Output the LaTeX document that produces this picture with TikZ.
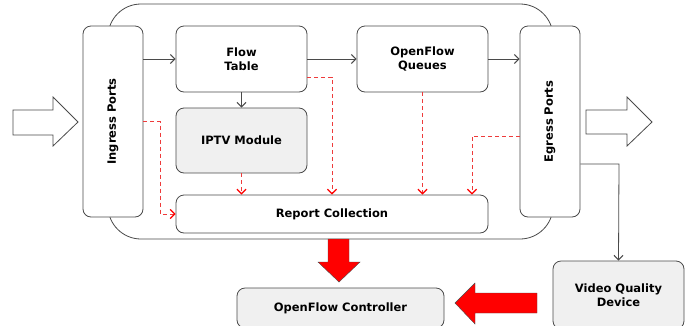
\documentclass[tikz,border=0pt]{standalone}
\usepackage{fontspec}
\setmainfont{DejaVu Sans}
\usepackage{tikz}
\usetikzlibrary{arrows.meta, positioning}

\definecolor{linegray}{HTML}{4A4A4A}
\definecolor{boxgray}{HTML}{F0F0F0}
\definecolor{dashred}{HTML}{EE3B3B}

\begin{document}
\begin{tikzpicture}
	[x=1pt, y=-1pt, line width=0.8pt,
	 block/.style={draw=linegray, fill=white, rounded corners=8pt, align=center,
	   font=\fontsize{11.5}{13.5}\selectfont\bfseries, inner sep=0pt},
	 port/.style={block, minimum width=60pt, minimum height=191pt},
	 flow/.style={draw=linegray, -{Straight Barb[length=4.5pt, width=9pt, line width=1.1pt]}},
	 report_link/.style={draw=dashred, dash pattern=on 4pt off 3pt,
	   -{Straight Barb[length=4.5pt, width=9pt, line width=1.3pt, color=red]}},
	 big_red/.style={fill=red, draw=linegray, line width=0.4pt},
	 hollow/.style={fill=white, draw=linegray, line width=0.8pt}]
   \useasboundingbox (0,0) rectangle (691,325);

   % switch body
   \draw[linegray, rounded corners=33pt] (108,4) rectangle (553,239);

   \node[port] (ingress) at (113,121.5) {\rotatebox{90}{Ingress Ports}};
   \node[port] (egress)  at (550,121.5) {\rotatebox{90}{Egress Ports}};
   \node[block, minimum width=131pt, minimum height=66pt] (flow_table) at (241.5,59) {Flow\\Table};
   \node[block, minimum width=131pt, minimum height=65pt, fill=boxgray] (iptv) at (241.5,140.5) {IPTV Module};
   \node[block, minimum width=131pt, minimum height=66pt] (queues) at (422.5,59) {OpenFlow\\Queues};
   \node[block, minimum width=312pt, minimum height=38pt] (report) at (332,214) {Report Collection};
   \node[block, minimum width=207pt, minimum height=40pt, fill=boxgray] (controller) at (340.5,308) {OpenFlow Controller};
   \node[block, minimum width=131pt, minimum height=68pt, fill=boxgray] (vqd) at (618.5,295) {Video Quality\\Device};
   \coordinate (vq_turn) at (619,164);

   % data path
   \draw[flow] (ingress.east |- flow_table.west) -- (flow_table.west);
   \draw[flow] (flow_table.east) -- (queues.west);
   \draw[flow] (queues.east) -- (egress.west |- queues.east);
   \draw[flow] (flow_table.south) -- (iptv.north);
   \draw[flow] (egress.east |- vq_turn) -- (vq_turn) -- (vqd.north);

   % reports
   \draw[report_link] (ingress.east) -- ++(17,0) |- (report.west);
   \draw[report_link] ([yshift=-18pt]flow_table.east) -| (report.north);
   \draw[report_link] (iptv.south) -- (iptv.south |- report.north);
   \draw[report_link] (queues.south) -- (queues.south |- report.north);
   \draw[report_link] ([yshift=-14.5pt]egress.west) -| ([xshift=140pt]report.north);

   % traffic in and out
   \draw[hollow] (13,110) -- (53,110) -- (53,97) -- (78,122) -- (53,146) -- (53,135) -- (13,135) -- cycle;
   \draw[hollow] (586,110) -- (627,110) -- (627,97) -- (652,122) -- (627,146) -- (627,134) -- (586,134) -- cycle;

   % to the controller
   \draw[big_red] (328,239) -- (349,239) -- (349,262) -- (360,262) -- (339,282) -- (318,262) -- (328,262) -- cycle;
   \draw[big_red] (537,293) -- (475,293) -- (475,283) -- (455,303) -- (475,324) -- (475,313) -- (537,313) -- cycle;
\end{tikzpicture}
\end{document}
